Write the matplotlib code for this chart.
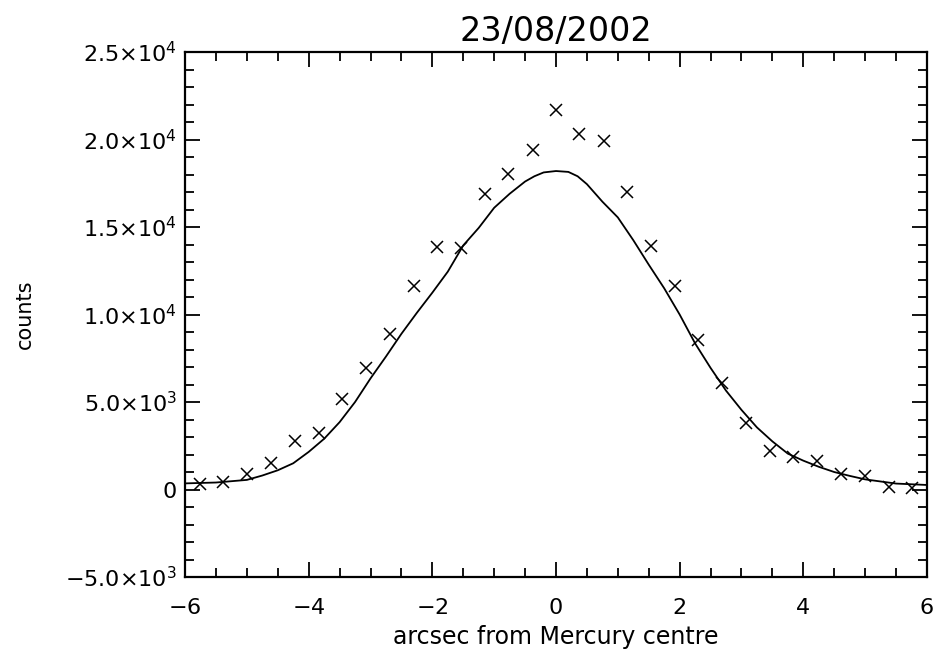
import matplotlib
matplotlib.use('Agg')
import matplotlib.pyplot as plt
from matplotlib.ticker import MultipleLocator

# measured points (x marks)
pos = [-5.76, -5.38, -4.99, -4.61, -4.22, -3.84, -3.46, -3.07, -2.69, -2.30,
       -1.92, -1.54, -1.15, -0.77, -0.38, 0.0, 0.38, 0.77, 1.15, 1.54,
       1.92, 2.30, 2.69, 3.07, 3.46, 3.84, 4.22, 4.61, 4.99, 5.38, 5.76]
counts = [300, 450, 870, 1530, 2790, 3210, 5170, 6920, 8890, 11630,
          13870, 13800, 16890, 18050, 19400, 21690, 20300, 19930, 16980, 13910,
          11630, 8540, 6070, 3820, 2220, 1880, 1650, 890, 790, 160, 70]

# fitted profile
fit_x = [-6.0, -5.5, -5.0, -4.75, -4.5, -4.25, -4.0, -3.75, -3.5, -3.25,
         -3.0, -2.75, -2.5, -2.25, -2.0, -1.75, -1.5, -1.25, -1.0, -0.75,
         -0.5, -0.35, -0.2, 0.0, 0.2, 0.35, 0.5, 0.75, 1.0, 1.25, 1.5, 1.75,
         2.0, 2.25, 2.5, 2.75, 3.0, 3.25, 3.5, 3.75, 4.0, 4.25,
         4.5, 4.75, 5.0, 5.5, 6.0]
fit_y = [350, 400, 550, 800, 1100, 1500, 2150, 2900, 3850, 5000,
         6350, 7600, 8900, 10100, 11250, 12450, 13950, 14950, 16100, 16900,
         17600, 17900, 18120, 18200, 18150, 17900, 17450, 16450, 15550, 14250, 12850, 11500,
         10000, 8350, 6950, 5650, 4550, 3550, 2750, 2050, 1650, 1300,
         1000, 780, 580, 340, 260]

yticks = [-5000, 0, 5000, 10000, 15000, 20000, 25000]
ylabels = [r'$-$5.0$\times$10$^3$', '0', r'5.0$\times$10$^3$', r'1.0$\times$10$^4$',
           r'1.5$\times$10$^4$', r'2.0$\times$10$^4$', r'2.5$\times$10$^4$']
xticks = [-6, -4, -2, 0, 2, 4, 6]
xlabels = [r'$-$6', r'$-$4', r'$-$2', '0', '2', '4', '6']

plt.rcParams['mathtext.default'] = 'regular'
plt.rcParams['font.family'] = ['DejaVu Sans']

fig = plt.figure(figsize=(9.35, 6.52), dpi=100)
ax = fig.add_axes([0.1979, 0.115, 0.7935, 0.8052])

ax.plot(fit_x, fit_y, color='black', linewidth=1.3)
ax.plot(pos, counts, linestyle='none', marker='x', color='black',
        markersize=9, markeredgewidth=1.1)

ax.set_xlim(-6, 6)
ax.set_ylim(-5000, 25000)
ax.set_xticks(xticks)
ax.set_xticklabels(xlabels)
ax.set_yticks(yticks)
ax.set_yticklabels(ylabels)
ax.xaxis.set_minor_locator(MultipleLocator(0.5))
ax.yaxis.set_minor_locator(MultipleLocator(1000))

ax.tick_params(which='both', direction='in', top=True, right=True,
               width=1.3, colors='black')
ax.tick_params(which='major', length=11, labelsize=16)
ax.tick_params(axis='x', which='major', pad=15)
ax.tick_params(axis='y', which='major', pad=6)
ax.tick_params(which='minor', length=6.5)
for s in ax.spines.values():
    s.set_linewidth(1.6)

ax.set_title('23/08/2002', fontsize=24, pad=8)
ax.set_xlabel('arcsec from Mercury centre', fontsize=17, labelpad=5)
ax.set_ylabel('counts', fontsize=15, labelpad=22)

plt.savefig('out.png', dpi=100)
